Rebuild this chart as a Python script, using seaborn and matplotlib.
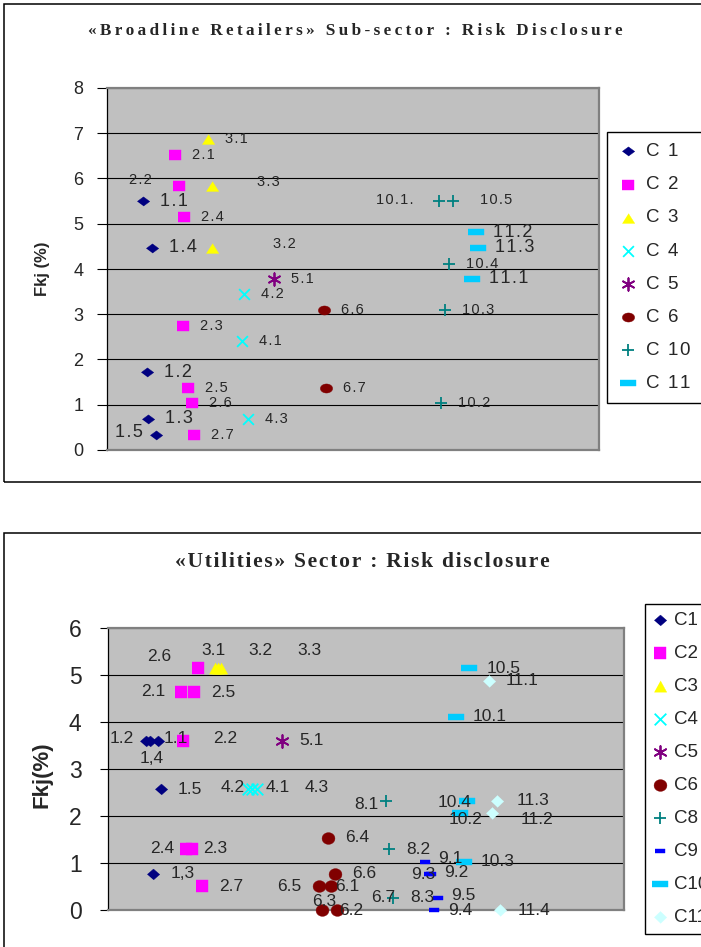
import pandas as pd
import seaborn as sns
import matplotlib
matplotlib.use("Agg")
from matplotlib import pyplot as plt
from matplotlib.patches import Rectangle
import numpy as np

# ---------- data: «Broadline Retailers» sub-sector ----------
top_series = (["C 1"] * 5 + ["C 2"] * 7 + ["C 3"] * 3 + ["C 4"] * 3 + ["C 5"]
              + ["C 6"] * 2 + ["C 10"] * 5 + ["C 11"] * 3)
top_label = ["1.1", "1.2", "1.3", "1.4", "1.5",
             "2.1", "2.2", "2.3", "2.4", "2.5", "2.6", "2.7",
             "3.1", "3.2", "3.3",
             "4.1", "4.2", "4.3",
             "5.1",
             "6.6", "6.7",
             "10.1.", "10.2", "10.3", "10.4", "10.5",
             "11.1", "11.2", "11.3"]
top_x = [7.3, 8.1, 8.4, 9.1, 10.0,
         13.8, 14.6, 15.4, 15.7, 16.5, 17.3, 17.7,
         20.5, 21.3, 21.3,
         27.4, 27.8, 28.6,
         33.9,
         44.1, 44.5,
         67.5, 67.8, 68.6, 69.5, 70.3,
         74.2, 75.0, 75.4]
top_y = [5.50, 1.72, 0.69, 4.47, 0.34,
         6.53, 5.84, 2.75, 5.15, 1.37, 1.03, 0.34,
         6.87, 4.47, 5.84,
         2.41, 3.44, 0.69,
         3.78,
         3.09, 1.37,
         5.50, 1.03, 3.09, 4.12, 5.50,
         3.78, 4.81, 4.47]
top_order = ["C 1", "C 2", "C 3", "C 4", "C 5", "C 6", "C 10", "C 11"]

# ---------- data: «Utilities» sector ----------
bot_series = (["C1"] * 5 + ["C2"] * 7 + ["C3"] * 3 + ["C4"] * 3 + ["C5"]
              + ["C6"] * 6 + ["C8"] * 3 + ["C9"] * 5 + ["C10"] * 5 + ["C11"] * 4)
bot_label = ["1.1", "1.2", "1,3", "1,4", "1.5",
             "2.1", "2.2", "2.3", "2.4", "2.5", "2.6", "2.7",
             "3.1", "3.2", "3.3",
             "4.1", "4.2", "4.3",
             "5.1",
             "6.1", "6.2", "6.3", "6.4", "6.5", "6.6",
             "8.1", "8.2", "8.3",
             "9.1", "9.2", "9.3", "9.4", "9.5",
             "10.1", "10.2", "10.3", "10.4", "10.5",
             "11.1", "11.2", "11.3", "11.4"]
bot_x = [9.6, 7.4, 8.8, 8.1, 10.2,
         14.1, 14.6, 16.2, 15.1, 16.7, 17.5, 18.2,
         20.7, 21.3, 21.9,
         28.0, 27.2, 28.8,
         33.8,
         43.2, 44.4, 41.5, 42.6, 40.8, 44.0,
         53.8, 54.5, 55.3,
         61.4, 62.6, 62.2, 63.2, 64.0,
         67.4, 68.2, 68.9, 69.6, 70.0,
         73.8, 74.5, 75.3, 76.0]
bot_y = [3.60, 3.60, 0.77, 3.60, 2.57,
         4.63, 3.60, 1.29, 1.29, 4.63, 5.14, 0.51,
         5.14, 5.14, 5.14,
         2.57, 2.57, 2.57,
         3.60,
         0.51, 0.00, 0.00, 1.54, 0.51, 0.77,
         2.31, 1.29, 0.26,
         1.03, 0.77, 0.77, 0.00, 0.26,
         4.11, 2.06, 1.03, 2.31, 5.14,
         4.88, 2.06, 2.31, 0.00]
bot_order = ["C1", "C2", "C3", "C4", "C5", "C6", "C8", "C9", "C10", "C11"]
# popisek, ktery v grafu stoji bez vlastniho bodu (u bodu 8.3)
bot_stray = {"6.7": "8.3"}

# ---------- styl ----------
W, H = 701, 947
SANS = ["Liberation Sans", "DejaVu Sans"]
SERIF = ["Liberation Serif", "DejaVu Serif"]
sns.set_style("white")
plt.rcParams["font.family"] = SANS


def diamond(a):
    return [(-a, 0), (0, 1), (a, 0), (0, -1)]


def square(a):
    return [(-a, -1), (a, -1), (a, 1), (-a, 1)]


def triangle(a):
    return [(-a, -1), (a, -1), (0, 1)]


def ellipse(a):
    t = np.linspace(0, 2 * np.pi, 40)
    return list(zip(a * np.cos(t), np.sin(t)))


def dash(a):
    return [(-a, -1), (a, -1), (a, 1), (-a, 1)]


# (barva, marker, velikost s, filled)
top_style = {
    "C 1": ("#000080", diamond(1.35), 80, True),
    "C 2": ("#FF00FF", square(1.3), 82, True),
    "C 3": ("#FFFF00", triangle(1.27), 80, True),
    "C 4": ("#00FFFF", "x", 60, False),
    "C 5": ("#800080", (6, 2, 0), 80, False),
    "C 6": ("#800000", ellipse(1.35), 78, True),
    "C 10": ("#008080", "+", 85, False),
    "C 11": ("#00CCFF", dash(3.1), 125, True),
}
bot_style = {
    "C1": ("#000080", diamond(1.15), 80, True),
    "C2": ("#FF00FF", square(1.08), 82, True),
    "C3": ("#FFFF00", triangle(1.1), 80, True),
    "C4": ("#00FFFF", "x", 70, False),
    "C5": ("#800080", (6, 2, 0), 85, False),
    "C6": ("#800000", ellipse(1.1), 86, True),
    "C8": ("#008080", "+", 85, False),
    "C9": ("#0000FF", dash(2.5), 45, True),
    "C10": ("#00CCFF", dash(3.0), 120, True),
    "C11": ("#CCFFFF", diamond(1.05), 80, True),
}

# posuny popisku v pixelech (dx, dy, zarovnani); jinak (17, 0, left)
top_offsets = {
    "2.2": (-27, 6, "right"), "3.3": (45, 4, "left"), "3.2": (61, 4, "left"),
    "1.5": (-13, 2, "right"), "10.1.": (-26, 1, "right"), "10.5": (27, 1, "left"),
}
bot_offsets = {
    "2.6": (-27, 12, "right"), "3.1": (-1, 18, "center"), "3.2": (43, 18, "center"),
    "3.3": (88, 18, "center"), "2.1": (-15, 1, "right"), "1.2": (-12, 2, "right"),
    "1.1": (6, 2, "left"), "1,4": (2, -18, "center"), "2.2": (30, 2, "left"),
    "4.2": (-4, 2, "right"), "4.1": (13, 2, "left"), "4.3": (48, 2, "left"),
    "8.1": (-7, -3, "right"), "2.4": (-12, 1, "right"), "2.3": (12, 1, "left"),
    "6.5": (-17, 0, "right"), "6.1": (4, 0, "left"), "6.3": (2, 9, "center"),
    "6.2": (2, 0, "left"), "6.7": (2, 0, "right"), "9.1": (13, 3, "left"),
    "9.3": (6, -1, "right"), "9.2": (13, 1, "left"), "9.5": (13, 2, "left"),
    "9.4": (14, 0, "left"), "10.4": (4, -1, "right"), "10.2": (23, -6, "right"),
    "11.2": (28, -6, "left"), "11.3": (20, 1, "left"),
}


def spaced(s, sep="\u200a"):
    return sep.join(s)


def fig_box(x0, y0, x1, y1):
    return [x0 / W, 1 - y1 / H, (x1 - x0) / W, (y1 - y0) / H]


def style_axes(ax, ymax, tick_fs, pad):
    ax.set_facecolor("#C0C0C0")
    ax.set_xlim(0, 100)
    ax.set_ylim(0, ymax)
    ax.set_yticks(range(0, ymax + 1))
    ax.set_xticks([])
    ax.set_xlabel("")
    ax.yaxis.grid(True, color="black", lw=0.8)
    ax.set_axisbelow(True)
    for side in ["top", "right", "bottom"]:
        ax.spines[side].set_color("#808080")
        ax.spines[side].set_linewidth(1.6)
    ax.spines["left"].set_color("black")
    ax.spines["left"].set_linewidth(0.9)
    ax.tick_params(axis="y", left=True, direction="out", length=6, width=0.8,
                   color="black", labelsize=tick_fs, pad=pad)


def draw(ax, df, order, style, offsets, big, small, big_series, spacing):
    for name in order:
        part = df[df["serie"] == name]
        color, marker, size, filled = style[name]
        if filled:
            sns.scatterplot(data=part, x="x", y="y", ax=ax, marker=marker, s=size,
                            color=color, edgecolor=color, linewidth=0.3,
                            clip_on=False, zorder=3, legend=False, label=name)
        else:
            sns.scatterplot(data=part, x="x", y="y", ax=ax, marker=marker, s=size,
                            color=color, linewidth=1.3,
                            clip_on=False, zorder=3, legend=False, label=name)
        fs = big if name in big_series else small
        for _, row in part.iterrows():
            dx, dy, ha = offsets.get(row["label"], (17, 0, "left"))
            txt = spaced(row["label"]) if spacing else row["label"]
            ax.annotate(txt, (row["x"], row["y"]), xytext=(dx, dy),
                        textcoords="offset pixels", ha=ha, va="center",
                        fontsize=fs, family=SANS, zorder=5, annotation_clip=False)


fig = plt.figure(figsize=(W / 100, H / 100), dpi=100)
fig.patch.set_facecolor("white")

# vnejsi ramecky obou grafu
fig.add_artist(Rectangle((4 / W, 1 - 482 / H), 720 / W, 478 / H,
                         transform=fig.transFigure, fill=False, ec="black", lw=1.1))
fig.add_artist(Rectangle((4 / W, -0.05), 720 / W, 1 - 533 / H + 0.05,
                         transform=fig.transFigure, fill=False, ec="black", lw=1.1))

# ----- horni graf -----
ax1 = fig.add_axes(fig_box(107, 88, 599, 450))
top_df = pd.DataFrame({"serie": top_series, "label": top_label, "x": top_x, "y": top_y})
draw(ax1, top_df, top_order, top_style, top_offsets, 13, 10.5,
     ["C 1", "C 11"], True)
style_axes(ax1, 8, 13, 10)
ax1.tick_params(axis="y", length=7)
ax1.set_ylabel("Fkj (%)", fontsize=12, fontweight="bold")
ax1.yaxis.set_label_coords(-0.116, 0.5)
fig.text(355 / W, 1 - 31 / H, spaced("«Broadline Retailers» Sub-sector : Risk Disclosure", "\u2009"),
         ha="center", va="center", fontsize=12.3, fontweight="bold", family=SERIF)
h1 = [c for c in ax1.collections]
ax1.legend(h1, [c.get_label() for c in h1], loc="upper left",
           bbox_to_anchor=(607 / W, 1 - 132 / H), bbox_transform=fig.transFigure,
           frameon=True, fancybox=False, edgecolor="black", framealpha=1,
           fontsize=13.5, handlelength=1.0, handletextpad=0.5, borderpad=0.6,
           labelspacing=0.85, borderaxespad=0)
for t in ax1.get_legend().get_texts():
    t.set_text(spaced(t.get_text()))
ax1.get_legend().get_frame().set_linewidth(1.0)

# ----- dolni graf -----
ax2 = fig.add_axes(fig_box(108, 628, 624, 910))
bot_df = pd.DataFrame({"serie": bot_series, "label": bot_label, "x": bot_x, "y": bot_y})
draw(ax2, bot_df, bot_order, bot_style, bot_offsets, 12.5, 12.5, [], False)
for lbl, anchor in bot_stray.items():
    row = bot_df[bot_df["label"] == anchor].iloc[0]
    dx, dy, ha = bot_offsets[lbl]
    ax2.annotate(lbl, (row["x"], row["y"]), xytext=(dx, dy), textcoords="offset pixels",
                 ha=ha, va="center", fontsize=12.5, family=SANS, zorder=5,
                 annotation_clip=False)
style_axes(ax2, 6, 16.5, 13)
ax2.set_ylabel("Fkj(%)", fontsize=16, fontweight="bold")
ax2.yaxis.set_label_coords(-0.108, 0.48)
fig.text(362 / W, 1 - 562 / H, spaced("«Utilities» Sector : Risk disclosure"),
         ha="center", va="center", fontsize=15.5, fontweight="bold", family=SERIF)
h2 = [c for c in ax2.collections]
ax2.legend(h2, [c.get_label() for c in h2], loc="upper left",
           bbox_to_anchor=(645 / W, 1 - 604 / H), bbox_transform=fig.transFigure,
           frameon=True, fancybox=False, edgecolor="black", framealpha=1,
           fontsize=13.5, handlelength=0.8, handletextpad=0.35, borderpad=0.4,
           labelspacing=0.85, borderaxespad=0)
ax2.get_legend().get_frame().set_linewidth(1.0)

fig.savefig("out.png", dpi=100)
